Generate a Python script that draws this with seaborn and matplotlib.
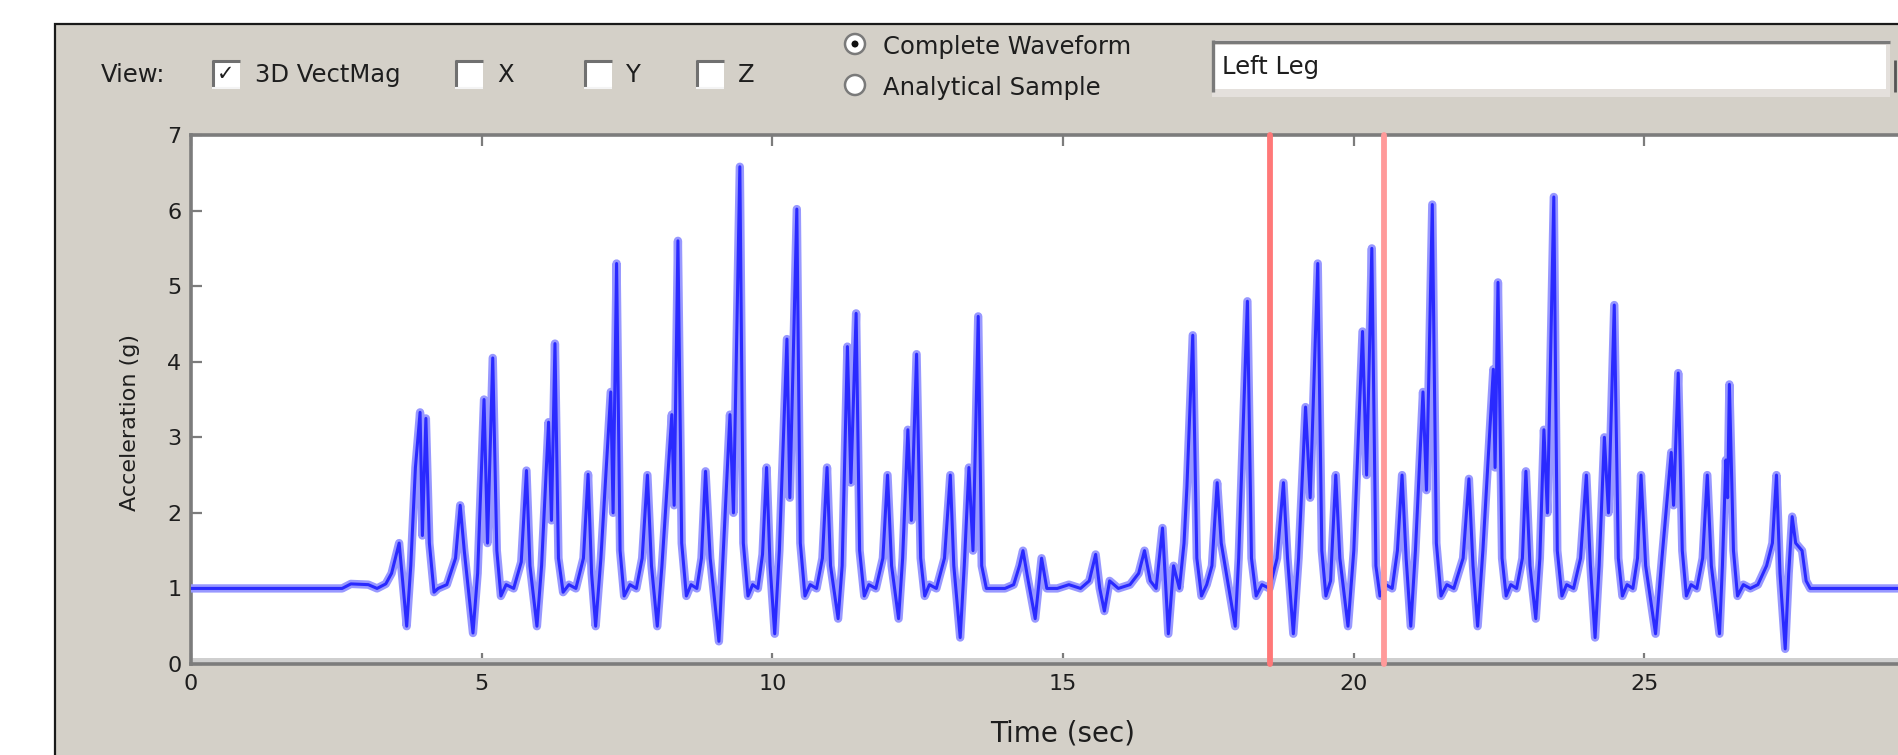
import matplotlib

matplotlib.use("Agg")

import matplotlib.pyplot as plt
import pandas as pd
import seaborn as sns
from matplotlib.lines import Line2D
from matplotlib.patches import Ellipse, Rectangle

# Acceleration trace (3D vector magnitude)
TIME_S = [
    0.0, 1.0, 2.0, 2.6, 2.75, 3.05, 3.2, 3.35, 3.45,
    3.58, 3.64, 3.71, 3.78, 3.86, 3.94, 3.98, 4.04, 4.10, 4.18,
    4.25, 4.40, 4.55, 4.63, 4.70, 4.85, 4.93, 5.04, 5.10, 5.19, 5.26, 5.33,
    5.42, 5.55, 5.68, 5.77, 5.83, 5.95, 6.03, 6.15, 6.20, 6.26, 6.32, 6.40,
    6.50, 6.62, 6.75, 6.83, 6.89, 6.96, 7.05, 7.22, 7.26, 7.32, 7.38, 7.45,
    7.55, 7.66, 7.76, 7.85, 7.92, 8.02, 8.10, 8.27, 8.31, 8.375, 8.44, 8.52,
    8.60, 8.70, 8.78, 8.85, 8.93, 9.08, 9.15, 9.27, 9.33, 9.44, 9.50, 9.58,
    9.66, 9.75, 9.83, 9.90, 9.96, 10.04, 10.12, 10.25, 10.30, 10.42, 10.48, 10.56,
    10.65, 10.76, 10.86, 10.94, 11.00, 11.13, 11.20, 11.29, 11.35, 11.44, 11.50, 11.58,
    11.66, 11.78, 11.90, 11.98, 12.05, 12.17, 12.24, 12.33, 12.39, 12.48, 12.55, 12.62,
    12.70, 12.82, 12.96, 13.06, 13.12, 13.23, 13.30, 13.38, 13.45, 13.54, 13.60, 13.68,
    13.80, 14.00, 14.15, 14.25, 14.31, 14.40, 14.52, 14.63, 14.72, 14.90, 15.10, 15.30,
    15.45, 15.56, 15.63, 15.71, 15.80, 15.95, 16.15, 16.30, 16.40, 16.50, 16.60,
    16.71, 16.81, 16.90, 17.00, 17.08, 17.13, 17.23, 17.30, 17.38,
    17.47, 17.56, 17.65, 17.72, 17.85, 17.96, 18.02, 18.06, 18.17, 18.24, 18.32,
    18.42, 18.55, 18.68, 18.79, 18.86, 18.96, 19.05, 19.17, 19.25, 19.38, 19.45, 19.52,
    19.60, 19.69, 19.76, 19.90, 20.00, 20.15, 20.22, 20.31, 20.38, 20.45,
    20.55, 20.66, 20.75, 20.83, 20.90, 20.98, 21.06, 21.19, 21.25, 21.35, 21.42, 21.50,
    21.60, 21.72, 21.88, 21.98, 22.05, 22.13, 22.22, 22.40, 22.43, 22.48, 22.55, 22.62,
    22.70, 22.80, 22.90, 22.96, 23.03, 23.13, 23.20, 23.27, 23.33, 23.44, 23.50, 23.58,
    23.66, 23.78, 23.90, 24.00, 24.07, 24.15, 24.22, 24.31, 24.38, 24.48, 24.55, 24.62,
    24.70, 24.80, 24.88, 24.94, 25.02, 25.19, 25.30, 25.46, 25.50, 25.58, 25.65, 25.72,
    25.80, 25.90, 26.00, 26.08, 26.15, 26.29, 26.34, 26.40, 26.43, 26.46, 26.53, 26.60,
    26.70, 26.82, 26.95, 27.10, 27.20, 27.27, 27.33, 27.42, 27.48, 27.54, 27.60, 27.71, 27.78, 27.85,
    28.0, 29.0, 30.0,
]
ACCEL_G = [
    1.0, 1.0, 1.0, 1.0, 1.06, 1.05, 1.0, 1.06, 1.2,
    1.6, 1.1, 0.5, 1.3, 2.6, 3.33, 1.7, 3.25, 1.6, 0.95,
    1.0, 1.05, 1.4, 2.1, 1.5, 0.41, 1.2, 3.5, 1.6, 4.05, 1.5, 0.9,
    1.05, 1.0, 1.35, 2.56, 1.3, 0.5, 1.3, 3.2, 1.9, 4.24, 1.4, 0.95,
    1.05, 1.0, 1.4, 2.51, 1.2, 0.5, 1.4, 3.6, 2.0, 5.3, 1.5, 0.9,
    1.05, 1.0, 1.4, 2.5, 1.3, 0.5, 1.3, 3.3, 2.1, 5.6, 1.6, 0.9,
    1.05, 1.0, 1.4, 2.55, 1.4, 0.3, 1.4, 3.3, 2.0, 6.58, 1.6, 0.9,
    1.05, 1.0, 1.45, 2.6, 1.3, 0.4, 1.5, 4.3, 2.2, 6.02, 1.6, 0.9,
    1.05, 1.0, 1.4, 2.6, 1.3, 0.6, 1.3, 4.2, 2.4, 4.64, 1.5, 0.9,
    1.05, 1.0, 1.4, 2.5, 1.3, 0.6, 1.4, 3.1, 1.9, 4.1, 1.4, 0.9,
    1.05, 1.0, 1.4, 2.5, 1.3, 0.35, 1.3, 2.6, 1.5, 4.6, 1.3, 1.0,
    1.0, 1.0, 1.05, 1.3, 1.5, 1.1, 0.6, 1.4, 1.0, 1.0, 1.05, 1.0,
    1.1, 1.45, 1.0, 0.7, 1.1, 1.0, 1.05, 1.2, 1.5, 1.1, 1.0,
    1.8, 0.4, 1.3, 1.0, 1.6, 2.35, 4.35, 1.4, 0.9,
    1.05, 1.3, 2.4, 1.6, 1.0, 0.5, 1.4, 2.3, 4.8, 1.4, 0.9,
    1.05, 1.0, 1.4, 2.4, 1.4, 0.4, 1.4, 3.4, 2.2, 5.3, 1.5, 0.9,
    1.1, 2.5, 1.4, 0.5, 1.5, 4.4, 2.5, 5.5, 1.3, 0.9,
    1.05, 1.0, 1.5, 2.5, 1.4, 0.5, 1.5, 3.6, 2.3, 6.08, 1.6, 0.9,
    1.05, 1.0, 1.4, 2.45, 1.3, 0.5, 1.5, 3.9, 2.6, 5.05, 1.4, 0.9,
    1.05, 1.0, 1.4, 2.55, 1.3, 0.6, 1.4, 3.1, 2.0, 6.18, 1.5, 0.9,
    1.05, 1.0, 1.4, 2.5, 1.3, 0.35, 1.3, 3.0, 2.0, 4.75, 1.4, 0.9,
    1.05, 1.0, 1.4, 2.5, 1.3, 0.4, 1.4, 2.8, 2.1, 3.85, 1.5, 0.9,
    1.05, 1.0, 1.4, 2.5, 1.3, 0.4, 1.3, 2.7, 2.2, 3.7, 1.5, 0.9,
    1.05, 1.0, 1.05, 1.3, 1.6, 2.5, 1.2, 0.2, 1.2, 1.95, 1.6, 1.5, 1.1, 1.0,
    1.0, 1.0, 1.0,
]

# analysis window markers (sec)
MARKER_TIMES = [18.56, 20.52]
MARKER_COLORS = ["#ff7878", "#ff9a9a"]

# 30 s lies past the cropped right edge, so only 0-25 carry labels
X_TICKS = [0, 5, 10, 15, 20, 25]
Y_TICKS = [0, 1, 2, 3, 4, 5, 6, 7]

AXIS_CHECKS = ["X", "Y", "Z"]
WAVE_MODES = ["Complete Waveform", "Analytical Sample"]
SEGMENT_NAME = "Left Leg"

FIG_W, FIG_H = 1899, 755
PANEL_COLOR = "#d4d0c8"
TEXT_COLOR = "#1e1e1e"
GUI_FONT = 17.5


def fx(px):
    return px / FIG_W


def fy(py):
    return 1 - py / FIG_H


def add_rect(fig, x0, y0, x1, y1, **kw):
    """Rectangle given in pixel coords (top-left origin)."""
    patch = Rectangle((fx(x0), fy(y1)), fx(x1) - fx(x0), fy(y0) - fy(y1),
                      transform=fig.transFigure, **kw)
    fig.add_artist(patch)
    return patch


def add_hline(fig, x0, x1, y, color, lw):
    fig.add_artist(Line2D([fx(x0), fx(x1)], [fy(y), fy(y)], color=color, lw=lw,
                          transform=fig.transFigure, solid_capstyle="butt"))


def add_vline(fig, x, y0, y1, color, lw):
    fig.add_artist(Line2D([fx(x), fx(x)], [fy(y0), fy(y1)], color=color, lw=lw,
                          transform=fig.transFigure, solid_capstyle="butt"))


def draw_checkbox(fig, x0, y0, size, checked=False):
    add_rect(fig, x0, y0, x0 + size, y0 + size, facecolor="white", lw=0, zorder=2)
    add_hline(fig, x0, x0 + size, y0 + 1, "#707070", 2.2)
    add_vline(fig, x0 + 1, y0, y0 + size, "#707070", 2.2)
    add_hline(fig, x0, x0 + size, y0 + size, "#f4f4f4", 1.5)
    if checked:
        fig.text(fx(x0 + size / 2), fy(y0 + size / 2), "\u2713", ha="center",
                 va="center", fontsize=15, color=TEXT_COLOR, fontweight="bold")


def draw_radio(fig, cx, cy, r, selected=False):
    fig.add_artist(Ellipse((fx(cx), fy(cy)), 2 * r / FIG_W, 2 * r / FIG_H,
                           transform=fig.transFigure, facecolor="white",
                           edgecolor="#7a7a7a", lw=1.8, zorder=2))
    if selected:
        fig.add_artist(Ellipse((fx(cx), fy(cy)), 7 / FIG_W, 7 / FIG_H,
                               transform=fig.transFigure, facecolor="#111111",
                               lw=0, zorder=3))


def main():
    sns.set_theme(style="white")
    plt.rcParams["font.family"] = ["DejaVu Sans"]

    fig = plt.figure(figsize=(FIG_W / 100, FIG_H / 100), dpi=100)
    fig.patch.set_facecolor("white")

    # grey GUI panel with black outline on top/left
    add_rect(fig, 55, 24, FIG_W + 10, FIG_H + 10, facecolor=PANEL_COLOR,
             edgecolor="#1a1a1a", lw=1.6, zorder=-5)

    # ---- controls row ----
    fig.text(fx(101), fy(75), "View:", ha="left", va="center",
             fontsize=GUI_FONT, color=TEXT_COLOR)
    draw_checkbox(fig, 212, 60, 28, checked=True)
    fig.text(fx(255), fy(75), "3D VectMag", ha="left", va="center",
             fontsize=GUI_FONT, color=TEXT_COLOR)
    for label, box_x in zip(AXIS_CHECKS, [455, 584, 696]):
        draw_checkbox(fig, box_x, 60, 28)
        fig.text(fx(box_x + 42), fy(75), label, ha="left", va="center",
                 fontsize=GUI_FONT, color=TEXT_COLOR)

    for i, (mode, cy) in enumerate(zip(WAVE_MODES, [44, 85])):
        draw_radio(fig, 855, cy, 10, selected=(i == 0))
        fig.text(fx(883), fy(cy + 3), mode, ha="left", va="center",
                 fontsize=GUI_FONT, color=TEXT_COLOR)

    # segment selector box
    add_rect(fig, 1212, 40, 1890, 97, facecolor="#e4e0dc", lw=0, zorder=1)
    add_rect(fig, 1215, 45, 1886, 89, facecolor="white", lw=0, zorder=2)
    add_hline(fig, 1212, 1890, 42, "#7a7a7a", 2.4)
    add_vline(fig, 1213, 40, 92, "#7a7a7a", 2.4)
    add_vline(fig, 1895, 60, 92, "#555555", 2.0)
    fig.text(fx(1222), fy(67), SEGMENT_NAME, ha="left", va="center",
             fontsize=GUI_FONT, color=TEXT_COLOR, zorder=3)

    # ---- waveform axes ----
    ax_left = 191 / FIG_W
    ax_bottom = 1 - 664 / FIG_H
    ax_width = 30 * 58.14 / FIG_W
    ax_height = 529 / FIG_H
    ax = fig.add_axes([ax_left, ax_bottom, ax_width, ax_height])
    ax.set_facecolor("white")

    wave = pd.DataFrame({"Time (sec)": TIME_S, "Acceleration (g)": ACCEL_G})
    sns.lineplot(data=wave, x="Time (sec)", y="Acceleration (g)", ax=ax,
                 color="#9898ff", lw=6.0, estimator=None, sort=False, zorder=3)
    sns.lineplot(data=wave, x="Time (sec)", y="Acceleration (g)", ax=ax,
                 color="#2a2aff", lw=2.2, estimator=None, sort=False, zorder=4)

    for t, c in zip(MARKER_TIMES, MARKER_COLORS):
        ax.axvline(t, color=c, lw=4.2, zorder=5, clip_on=False)

    ax.add_patch(Rectangle((0, 0), 1, 6 / 529, transform=ax.transAxes,
                           facecolor="#cfcfcf", lw=0, zorder=2))

    ax.set_xlim(0, 30)
    ax.set_ylim(0, 7)
    ax.set_xticks(X_TICKS)
    ax.set_yticks(Y_TICKS)
    ax.set_xticklabels([str(v) for v in X_TICKS])
    ax.set_yticklabels([str(v) for v in Y_TICKS])

    for side in ["left", "right", "top", "bottom"]:
        ax.spines[side].set_visible(True)
        ax.spines[side].set_color("#7c7c7c")
        ax.spines[side].set_linewidth(2.6)

    ax.tick_params(axis="both", direction="in", length=8, width=1.6,
                   color="#7c7c7c", labelsize=16, labelcolor=TEXT_COLOR, pad=7)
    ax.tick_params(axis="x", top=True, bottom=True)
    ax.tick_params(axis="y", left=True, right=False)

    ax.set_xlabel("Time (sec)", fontsize=20, color=TEXT_COLOR)
    ax.set_ylabel("Acceleration (g)", fontsize=16, color=TEXT_COLOR)
    ax.xaxis.set_label_coords(0.5, -0.104)
    ax.yaxis.set_label_coords(-0.029, 0.457)

    fig.savefig("out.png", dpi=100, facecolor=fig.get_facecolor())


if __name__ == "__main__":
    main()
